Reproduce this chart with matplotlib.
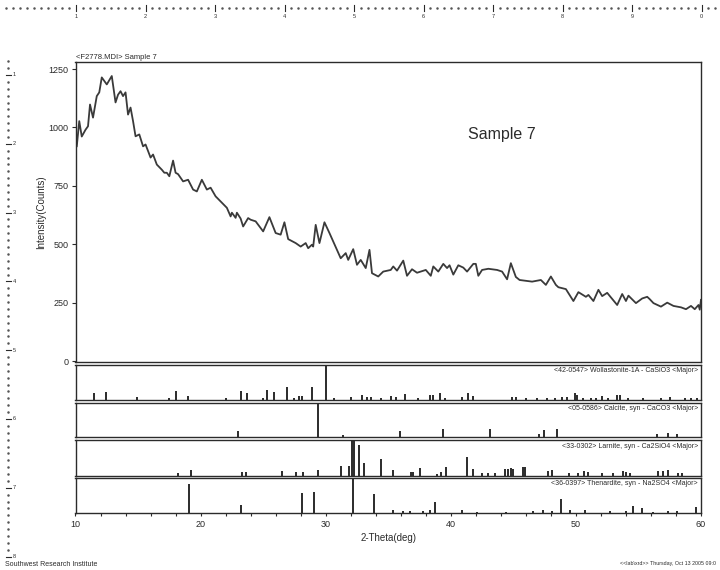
import numpy as np
import matplotlib
matplotlib.use('Agg')
import matplotlib.pyplot as plt
from matplotlib.lines import Line2D

plt.rcParams['font.family'] = ['Liberation Sans', 'DejaVu Sans']

theta = [10.0, 10.1, 10.3, 10.5, 10.8, 11.0, 11.16, 11.4, 11.7, 11.9, 12.1, 12.5, 12.9, 13.2,
         13.4, 13.6, 13.8, 14.0, 14.2, 14.4, 14.6, 14.8, 15.1, 15.4, 15.6, 16.0, 16.2, 16.5,
         16.9, 17.1, 17.3, 17.5, 17.8, 18.0, 18.2, 18.6, 19.0, 19.4, 19.7, 20.1, 20.5, 20.8,
         21.2, 21.7, 22.1, 22.4, 22.5, 22.8, 22.9, 23.2, 23.4, 23.8, 24.0, 24.4, 25.0, 25.5,
         26.0, 26.4, 26.7, 27.0, 27.6, 28.0, 28.4, 28.6, 28.9, 29.0, 29.2, 29.5, 29.9, 30.3,
         30.6, 31.2, 31.6, 31.8, 32.2, 32.5, 32.8, 33.2, 33.5, 33.7, 34.2, 34.6, 35.2, 35.4,
         35.7, 36.2, 36.5, 36.9, 37.3, 38.0, 38.4, 38.6, 39.0, 39.4, 39.7, 39.9, 40.2, 40.6,
         41.0, 41.3, 41.8, 42.0, 42.2, 42.5, 43.0, 43.7, 44.1, 44.5, 44.8, 45.2, 45.5, 46.1,
         46.5, 47.2, 47.6, 48.0, 48.4, 48.6, 49.2, 49.8, 50.2, 50.8, 51.0, 51.4, 51.8, 52.1,
         52.5, 53.3, 53.7, 54.0, 54.2, 54.8, 55.3, 55.7, 55.9, 56.2, 56.8, 57.3, 57.8, 58.4,
         58.8, 59.2, 59.5, 59.8, 59.9, 60.0]
counts = [961, 918, 1027, 961, 990, 1005, 1098, 1042, 1134, 1150, 1214, 1184, 1220, 1107,
          1140, 1155, 1134, 1150, 1055, 1085, 1027, 962, 970, 919, 927, 871, 884, 841,
          819, 806, 806, 791, 858, 806, 800, 769, 776, 734, 726, 776, 734, 742,
          705, 678, 656, 619, 635, 613, 635, 610, 576, 612, 605, 598, 555, 616,
          548, 541, 594, 522, 505, 490, 505, 483, 498, 490, 583, 505, 594, 548,
          512, 440, 462, 433, 479, 412, 433, 398, 476, 376, 362, 383, 390, 405,
          387, 430, 365, 393, 378, 390, 365, 405, 383, 416, 398, 410, 370, 410,
          400, 383, 416, 416, 365, 390, 395, 390, 383, 350, 419, 360, 347, 343,
          340, 347, 326, 362, 326, 316, 308, 257, 295, 275, 283, 257, 305, 278,
          292, 240, 287, 257, 280, 248, 268, 275, 265, 248, 233, 250, 236, 230,
          222, 236, 222, 240, 220, 262]

# reference patterns: stick positions and relative intensities
wol_pos = [11.5, 12.4, 14.9, 17.5, 18.0, 19.0, 22.0, 23.2, 23.7, 25.0, 25.3, 25.9, 26.9, 27.5,
           27.85, 28.1, 28.9, 30.0, 30.7, 32.0, 32.9, 33.3, 33.6, 34.4, 35.2, 35.6, 36.3, 37.4,
           38.3, 38.6, 39.1, 39.5, 40.9, 41.4, 41.8, 44.9, 45.2, 46.0, 46.9, 47.7, 48.3, 48.9,
           49.3, 49.95, 50.1, 50.6, 51.2, 51.6, 52.1, 52.6, 53.3, 53.5, 54.2, 55.4, 56.8, 57.5,
           58.7, 59.2, 59.7]
wol_int = [19, 24, 9, 7, 25, 11, 7, 25, 19, 7, 30, 24, 37, 7,
           11, 11, 37, 100, 7, 9, 14, 9, 9, 7, 12, 9, 17, 7,
           14, 14, 20, 7, 9, 21, 11, 9, 9, 7, 5, 5, 7, 9,
           9, 21, 14, 7, 7, 7, 11, 7, 14, 14, 7, 5, 7, 9,
           7, 7, 7]

cal_pos = [23.0, 29.35, 31.4, 35.95, 39.35, 43.1, 47.05, 47.45, 48.45, 56.5, 57.35, 58.05]
cal_int = [18, 100, 7, 18, 23, 23, 10, 21, 23, 10, 13, 10]

lar_pos = [18.2, 19.2, 23.3, 23.6, 26.5, 27.6, 28.2, 29.4, 31.2, 31.9, 32.1, 32.25, 32.7, 33.1,
           34.4, 35.4, 36.8, 37.0, 37.5, 38.9, 39.2, 39.6, 41.3, 41.8, 42.5, 43.0, 43.5, 44.3,
           44.55, 44.8, 45.0, 45.8, 45.9, 47.8, 48.1, 49.45, 50.2, 50.65, 51.0, 52.05, 53.0, 53.75,
           54.0, 54.3, 56.55, 57.0, 57.4, 58.15, 58.5]
lar_int = [8, 16, 11, 11, 14, 11, 11, 16, 27, 27, 100, 100, 86, 35,
           47, 16, 11, 11, 22, 5, 11, 25, 53, 19, 9, 9, 9, 19,
           19, 22, 19, 25, 25, 14, 16, 7, 9, 14, 11, 7, 9, 14,
           11, 9, 14, 14, 16, 9, 9]

the_pos = [19.07, 23.2, 28.1, 29.1, 32.15, 33.9, 35.4, 36.2, 36.7, 37.8, 38.3, 38.7, 40.9, 42.1,
           44.4, 46.6, 47.4, 48.1, 48.8, 49.5, 50.7, 52.7, 54.0, 54.6, 55.3, 56.2, 57.4, 58.1,
           59.6]
the_int = [83, 22, 56, 61, 100, 53, 8, 5, 5, 5, 10, 31, 8, 3,
           3, 5, 8, 5, 41, 8, 8, 5, 5, 20, 13, 3, 5, 5,
           17]

ref_names = ['<42-0547> Wollastonite-1A - CaSiO3 <Major>',
             '<05-0586> Calcite, syn - CaCO3 <Major>',
             '<33-0302> Larnite, syn - Ca2SiO4 <Major>',
             '<36-0397> Thenardite, syn - Na2SO4 <Major>']

ink = '#2b2b2b'
W, H = 720, 570
fig = plt.figure(figsize=(7.2, 5.7), dpi=100)


def box(l, t, r, b):
    return [l / W, 1 - b / H, (r - l) / W, (b - t) / H]


ax = fig.add_axes(box(75.5, 62, 701, 362))
ax.plot(theta, counts, color='#3a3a3a', lw=1.3)
ax.set_xlim(10, 60)
ax.set_ylim(-4, 1280)
ax.set_yticks([0, 250, 500, 750, 1000, 1250])
ax.set_xticks([])
ax.tick_params(axis='y', labelsize=6.5, length=3, width=0.8, colors=ink, pad=2)
for s in ax.spines.values():
    s.set_color(ink)
    s.set_linewidth(1.0)
ax.set_ylabel('Intensity(Counts)', fontsize=7, color=ink, labelpad=2)
ax.text(0.0, 1.003, '<F2778.MDI> Sample 7', transform=ax.transAxes, fontsize=5.5,
        color=ink, ha='left', va='bottom')
ax.text(41.4, 970, 'Sample 7', fontsize=11.5, color=ink, ha='left', va='center')

panels = [(365, 400), (403, 437), (440, 476), (478, 513)]
refs = [(wol_pos, wol_int), (cal_pos, cal_int), (lar_pos, lar_int), (the_pos, the_int)]
for i, ((top, bot), (pos, inten)) in enumerate(zip(panels, refs)):
    pa = fig.add_axes(box(75.5, top, 701, bot))
    pa.vlines(pos, 0, inten, color=ink, lw=1.4)
    pa.set_xlim(10, 60)
    pa.set_ylim(0, 100)
    pa.set_yticks([])
    for s in pa.spines.values():
        s.set_color(ink)
        s.set_linewidth(1.0)
    pa.text(0.995, 0.93, ref_names[i], transform=pa.transAxes, fontsize=5, color=ink,
            ha='right', va='top')
    if i == 3:
        pa.set_xticks([10, 20, 30, 40, 50, 60])
        pa.set_xticks(np.arange(12, 60, 2), minor=True)
        pa.tick_params(axis='x', which='both', labelsize=6.5, length=2, width=0.8,
                       colors=ink, pad=3)
        pa.set_xlabel('2-Theta(deg)', fontsize=7, color=ink, labelpad=3)
    else:
        pa.set_xticks([])

# ruler along the top and the left edge of the printout
step = 6.95
for k in range(105):
    x = 6.5 + k * step
    if x > 718:
        break
    if k % 10 == 0 and k > 0:
        fig.add_artist(Line2D([x / W, x / W], [1 - 5 / H, 1 - 11 / H], color=ink, lw=0.8))
        fig.text(x / W, 1 - 17 / H, str(k // 10 % 10), fontsize=4, color=ink, ha='center', va='center')
    else:
        fig.add_artist(Line2D([x / W], [1 - 8 / H], marker='o', ms=0.8, color='#555555', lw=0))
step_v = 6.88
for k in range(-2, 80):
    y = 75 + k * step_v
    if y > 558:
        break
    if k % 10 == 0:
        fig.add_artist(Line2D([6 / W, 11 / W], [1 - y / H, 1 - y / H], color=ink, lw=0.8))
        fig.text(13 / W, 1 - y / H, str(k // 10 + 1), fontsize=4, color=ink, ha='left', va='center')
    else:
        fig.add_artist(Line2D([8 / W], [1 - y / H], marker='o', ms=0.8, color='#555555', lw=0))

fig.text(5 / W, 1 - 565 / H, 'Southwest Research Institute', fontsize=5, color=ink,
         ha='left', va='center')
fig.text(716 / W, 1 - 564 / H, '<<lab\\xrd>> Thursday, Oct 13 2005 09:0', fontsize=3.8,
         color=ink, ha='right', va='center')

fig.savefig('out.png', dpi=100)
